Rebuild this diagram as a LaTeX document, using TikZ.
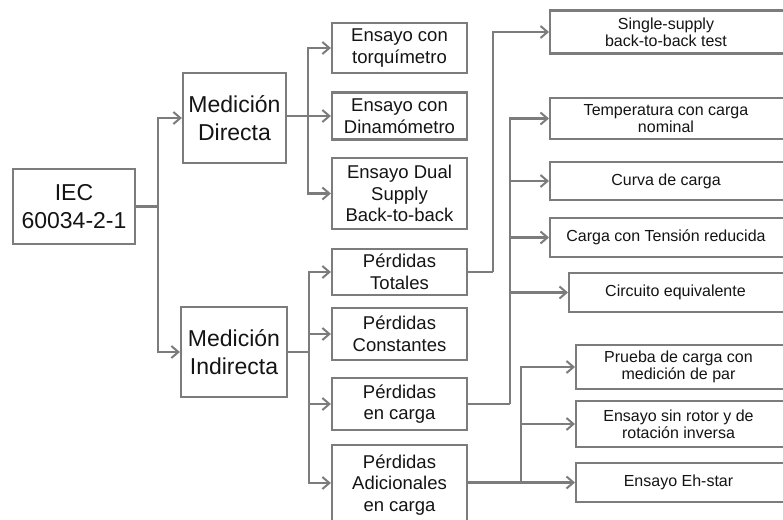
\documentclass[tikz,border=0pt]{standalone}
\usepackage{fontspec}
\setmainfont{Liberation Sans}
\usetikzlibrary{arrows.meta}
\definecolor{edge}{HTML}{7C7C7C}
\definecolor{ink}{HTML}{141414}
\tikzset{
  box/.style={draw=edge, line width=2.2pt, fill=white, text=ink, align=center,
    inner sep=0pt, font=\fontsize{16}{17}\selectfont},
  big/.style={font=\fontsize{23}{28.5}\selectfont},
  mid/.style={font=\fontsize{18.5}{21.5}\selectfont},
  small/.style={text=ink, align=center, font=\fontsize{16}{17}\selectfont},
  conn/.style={draw=edge, line width=2.1pt},
  arr/.style={conn, -{Straight Barb[length=7pt,width=12pt,line width=2pt]}},
}
\begin{document}
\begin{tikzpicture}[x=1pt,y=1pt]
\useasboundingbox (0,0) rectangle (783,-519);
\clip (0,0) rectangle (783,-519);

% root
\node[box,big,minimum width=122pt,minimum height=75pt] (iec) at (74,-206.5) {IEC\\60034-2-1};

% level 1
\node[box,big,minimum width=103pt,minimum height=90pt] (dir) at (234.5,-118) {Medición\\Directa};
\node[box,big,minimum width=106pt,minimum height=90pt] (ind) at (234,-352) {Medición\\Indirecta};

% level 2: direct methods
\node[box,mid,minimum width=135pt,minimum height=50pt] (torq) at (399.5,-48) {Ensayo con\\torquímetro};
\node[box,mid,minimum width=135pt,minimum height=47pt] (dina) at (399.5,-116) {Ensayo con\\Dinamómetro};
\node[box,mid,minimum width=135pt,minimum height=71pt] (dual) at (399.5,-193.5) {Ensayo Dual\\Supply\\Back-to-back};

% level 2: indirect methods
\node[box,mid,minimum width=135pt,minimum height=46pt] (tot) at (399.5,-272) {Pérdidas\\Totales};
\node[box,mid,minimum width=135pt,minimum height=52pt] (cons) at (399.5,-334) {Pérdidas\\Constantes};
\node[box,mid,minimum width=135pt,minimum height=52pt] (enc) at (399.5,-404) {Pérdidas\\en carga};
\node[box,mid,minimum width=135pt,minimum height=80pt] (adic) at (399.5,-485) {Pérdidas\\Adicionales\\en carga};

% level 3 (boxes run past the right edge)
\node[box,minimum width=250pt,minimum height=43pt,anchor=west] (single) at (549,-32) {};
\node[small] (tsingle) at (666,-32) {Single-supply\\back-to-back test};
\node[box,minimum width=250pt,minimum height=41pt,anchor=west] (temp) at (549,-118.5) {};
\node[small] (ttemp) at (666,-118.5) {Temperatura con carga\\nominal};
\node[box,minimum width=250pt,minimum height=38pt,anchor=west] (curva) at (549,-181) {};
\node[small] (tcurva) at (666,-181) {Curva de carga};
\node[box,minimum width=250pt,minimum height=39pt,anchor=west] (tens) at (549,-237.5) {};
\node[small] (ttens) at (666,-237.5) {Carga con Tensión reducida};
\node[box,minimum width=230pt,minimum height=39pt,anchor=west] (circ) at (568,-292.5) {};
\node[small] (tcirc) at (675.5,-292.5) {Circuito equivalente};
\node[box,minimum width=225pt,minimum height=44pt,anchor=west] (prueba) at (575,-367) {};
\node[small] (tprueba) at (678.5,-367) {Prueba de carga con\\medición de par};
\node[box,minimum width=225pt,minimum height=46pt,anchor=west] (sinrot) at (575,-424) {};
\node[small] (tsinrot) at (678.5,-424) {Ensayo sin rotor y de\\rotación inversa};
\node[box,minimum width=225pt,minimum height=39pt,anchor=west] (eh) at (575,-482.5) {};
\node[small] (teh) at (678.5,-482.5) {Ensayo Eh-star};

% connectors
\coordinate (j0) at (158,-206.5);
\draw[conn] (iec.east) -- (j0);
\draw[arr] (j0) |- (dir.west);
\draw[arr] (j0) |- (ind.west);

\coordinate (j1) at (308,-116);
\draw[conn] (dir.east |- j1) -- (j1);
\draw[arr] (j1) |- (torq.west);
\draw[arr] (j1) -- (dina.west);
\draw[arr] (j1) |- (dual.west);

\coordinate (j2) at (309,-352);
\draw[conn] (ind.east) -- (j2);
\draw[arr] (j2) |- (tot.west);
\draw[arr] (j2) |- (cons.west);
\draw[arr] (j2) |- (enc.west);
\draw[arr] (j2) |- (adic.west |- 0,-483);

\coordinate (j3) at (493,-272);
\draw[conn] (tot.east) -- (j3);
\draw[arr] (j3) |- (single.west);

\coordinate (j4) at (510,-404);
\draw[conn] (enc.east) -- (j4);
\draw[arr] (j4) |- (temp.west);
\draw[arr] (j4) |- (curva.west);
\draw[arr] (j4) |- (tens.west);
\draw[arr] (j4) |- (circ.west);

\coordinate (j5) at (521,-482.5);
\draw[conn] (adic.east |- j5) -- (j5);
\draw[arr] (j5) |- (prueba.west);
\draw[arr] (j5) |- (sinrot.west);
\draw[arr] (j5) -- (eh.west);
\end{tikzpicture}
\end{document}
